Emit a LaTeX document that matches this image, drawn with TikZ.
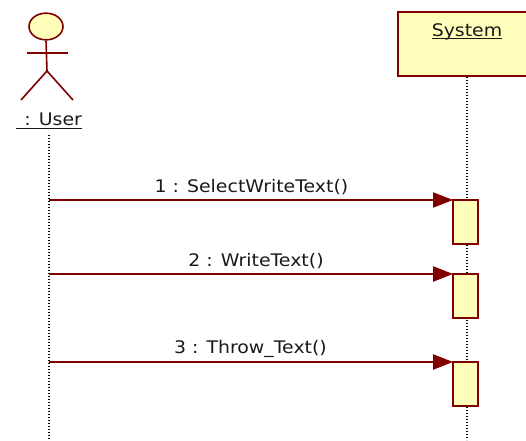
\documentclass[tikz,border=0pt]{standalone}
\usepackage{fontspec}
\setmainfont[FakeStretch=1.09]{DejaVu Sans}
\usetikzlibrary{arrows.meta,shapes.geometric}
\definecolor{umlred}{HTML}{800000}
\definecolor{umlfill}{HTML}{FFFFBB}
\tikzset{
  x=0.75pt,y=-0.75pt,
  umlbox/.style={draw=umlred,fill=umlfill,line width=1.3pt,inner sep=0pt,outer sep=0pt,anchor=north west},
  lifeline/.style={black,line width=0.8pt,dash pattern=on 0.9pt off 1.35pt},
  limb/.style={draw=umlred,line width=1.2pt},
  msg/.style={draw=umlred,line width=0.8pt,-{Triangle[length=15pt,width=11.5pt,fill=umlred]}},
  lbl/.style={font=\fontsize{13pt}{16pt}\selectfont,inner sep=0pt,text=black!90},
}
\newcommand{\activation}[2]{\node[umlbox,minimum width=18.75pt,minimum height=33pt] (#1) at (453,#2) {};}
\begin{document}
\begin{tikzpicture}
\useasboundingbox (0,0) rectangle (526,441);
% system head
\node[umlbox,minimum width=98pt,minimum height=48pt] (sys) at (398,12) {};
\node[lbl,anchor=base] (systxt) at (467,36.5) {\underline{\smash{System}}};
% actor
\node[draw=umlred,fill=umlfill,line width=1.2pt,ellipse,minimum width=25.5pt,minimum height=20pt,inner sep=0pt] (head) at (46,26.5) {};
\coordinate (hip) at (47,71);
\coordinate (armL) at (27,53);
\coordinate (armR) at (68,53);
\coordinate (footL) at (21,100);
\coordinate (footR) at (73,100);
\draw[limb] (head.south) -- (hip);
\draw[limb] (armL) -- (armR);
\draw[limb] (footL) -- (hip) -- (footR);
\node[lbl,anchor=base] (user) at (49,126) {\underline{\hspace{6.3pt}\smash{: User}}};
% lifelines
\coordinate (uTop) at (49,135);
\coordinate (uEnd) at (49,440);
\coordinate (sTop) at (467,77);
\coordinate (sEnd) at (467,440);
\draw[lifeline] (uTop) -- (uEnd);
\draw[lifeline] (sTop) -- (sEnd);
% activations
\activation{a1}{200}
\activation{a2}{274}
\activation{a3}{362}
% messages
\coordinate (u1) at (49,200);
\coordinate (u2) at (49,274);
\coordinate (u3) at (49,362);
\draw[msg] (u1) -- (a1.north west);
\draw[msg] (u2) -- (a2.north west);
\draw[msg] (u3) -- (a3.north west);
\node[lbl,anchor=base] (m1) at (251.5,193) {1 : SelectWriteText()};
\node[lbl,anchor=base] (m2) at (256,267) {2 : WriteText()};
\node[lbl,anchor=base] (m3) at (250.5,354) {3 : Throw\_Text()};
\end{tikzpicture}
\end{document}
